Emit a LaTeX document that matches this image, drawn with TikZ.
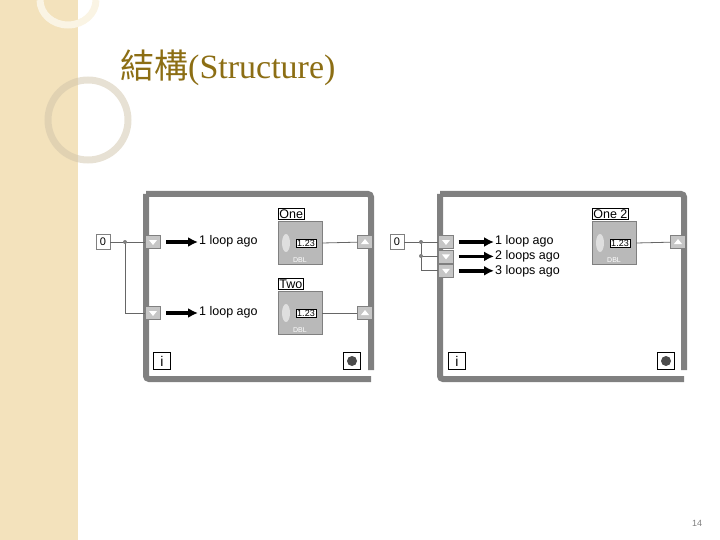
\documentclass[tikz,border=0pt]{standalone}
\usepackage{fontspec}
\setmainfont{Liberation Serif}
\setsansfont{Liberation Sans}
\newfontfamily\cjk{Noto Sans CJK TC}
\usetikzlibrary{positioning,arrows.meta,calc}
\definecolor{titlegold}{RGB}{140,110,20}
\definecolor{stripbg}{RGB}{243,226,188}
\definecolor{framegray}{RGB}{128,128,128}
\tikzset{
  loopframe/.style={draw=framegray, line width=6pt, rounded corners=3pt},
  shiftreg/.style={draw=framegray, fill=gray!45, minimum width=15pt, minimum height=13pt, inner sep=0pt},
  constbox/.style={draw=framegray, fill=white, font=\sffamily\fontsize{11}{12}\selectfont, minimum width=14pt, minimum height=15pt, inner sep=0pt},
  wire/.style={draw=gray!80!black, line width=0.8pt},
  bigarrow/.style={-{Latex[length=10pt,width=10pt]}, line width=3.5pt},
  agetext/.style={font=\sffamily\fontsize{12.5}{14}\selectfont, anchor=west, inner sep=1pt},
  labelbox/.style={draw, thick, font=\sffamily\fontsize{12.5}{14}\selectfont, inner sep=1pt, anchor=south west},
  indbox/.style={draw=framegray, fill=gray!55, minimum width=44pt, minimum height=43pt, inner sep=0pt},
  iterbox/.style={draw, thick, fill=white, font=\sffamily\fontsize{14}{16}\selectfont, minimum width=17pt, minimum height=17pt, inner sep=0pt},
  stopbox/.style={draw, thick, fill=white, minimum width=17pt, minimum height=17pt, inner sep=0pt}
}
\newcommand{\downtri}[1]{\fill[white] ($(#1)+(-4,-2)$) -- ($(#1)+(4,-2)$) -- ($(#1)+(0,3)$) -- cycle;}
\newcommand{\uptri}[1]{\fill[white] ($(#1)+(-4,2)$) -- ($(#1)+(4,2)$) -- ($(#1)+(0,-3)$) -- cycle;}
\newcommand{\indicator}[2]{%
  \node[indbox] (#1) at (#2) {};
  \node[draw, fill=white, font=\sffamily\fontsize{9}{10}\selectfont, inner sep=1pt] (#1num) at ($(#1)+(6,0)$) {1.23};
  \fill[gray!25] ($(#1)+(-14,0)$) ellipse (4 and 9);
  \node[font=\sffamily\fontsize{7}{8}\selectfont, text=white, inner sep=0pt] at ($(#1)+(0,17)$) {DBL};
  \coordinate (#1out) at ($(#1.east)$);}
\begin{document}
\begin{tikzpicture}[x=1pt,y=-1pt]
\useasboundingbox (0,0) rectangle (720,540);
% background strip
\fill[stripbg] (0,0) rectangle (78,540);
\draw[white!60!stripbg, line width=7pt] (40,0) arc (180:0:28 and 25);
\draw[stripbg!70!gray, line width=7pt, opacity=0.5] (88,120) circle (40);
\node[anchor=west, text=titlegold, font=\fontsize{34}{38}\selectfont, inner sep=0pt] (title) at (120,68) {{\cjk 結構}(Structure)};
\node[font=\sffamily\fontsize{9}{10}\selectfont, text=gray] (page) at (697,523) {14};

% left loop
\draw[loopframe] (146,194) -- (146,379) -- (371,379);
\draw[loopframe] (146,194) -- (371,194) -- (371,370);
\node[constbox] (zeroA) at (103,242) {0};
\node[shiftreg] (srA1) at (153,242) {};
\node[shiftreg] (srA2) at (153,313) {};
\node[shiftreg] (outA1) at (365,242) {};
\node[shiftreg] (outA2) at (365,313) {};
\downtri{srA1} \downtri{srA2} \uptri{outA1} \uptri{outA2}
\coordinate (jA) at (125,242);
\draw[wire] (zeroA) -- (srA1);
\draw[wire] (jA) |- (srA2);
\fill[gray] (jA) circle (2pt);
\coordinate (arA1) at (166,242);
\coordinate (arA2) at (166,313);
\node[agetext] (txA1) at (198,241) {1 loop ago};
\node[agetext] (txA2) at (198,312) {1 loop ago};
\draw[bigarrow] (arA1) -- (arA1 -| txA1.west);
\draw[bigarrow] (arA2) -- (arA2 -| txA2.west);
\node[labelbox] (lblOne) at (278,220) {One};
\indicator{indOne}{300,243}
\node[labelbox] (lblTwo) at (278,290) {Two};
\indicator{indTwo}{300,313}
\draw[wire] (indOneout) -- (outA1);
\draw[wire] (indTwoout) -- (outA2);
\node[iterbox] (iterA) at (162,361) {i};
\node[stopbox] (stopA) at (352,361) {};
\fill[gray!60!black] (stopA) circle (5pt);

% right loop
\draw[loopframe] (440,194) -- (440,379) -- (684,379);
\draw[loopframe] (440,194) -- (684,194) -- (684,370);
\node[constbox] (zeroB) at (397,242) {0};
\node[shiftreg] (srB1) at (446,242) {};
\node[shiftreg, below=1pt of srB1] (srB2) {};
\node[shiftreg, below=1pt of srB2] (srB3) {};
\node[shiftreg] (outB1) at (678,242) {};
\downtri{srB1} \downtri{srB2} \downtri{srB3} \uptri{outB1}
\coordinate (jB) at (421,242);
\coordinate (jB2) at (421,256);
\draw[wire] (zeroB) -- (srB1);
\draw[wire] (jB) |- (srB2);
\draw[wire] (jB2) |- (srB3);
\fill[gray] (jB) circle (2pt);
\fill[gray] (jB2) circle (2pt);
\node[agetext] (txB1) at (494,241) {1 loop ago};
\node[agetext] (txB2) at (494,256) {2 loops ago};
\node[agetext] (txB3) at (494,271) {3 loops ago};
\draw[bigarrow] ($(srB1.east)+(5,0)$) -- (srB1 -| txB1.west);
\draw[bigarrow] ($(srB2.east)+(5,0)$) -- (srB2 -| txB2.west);
\draw[bigarrow] ($(srB3.east)+(5,0)$) -- (srB3 -| txB3.west);
\node[labelbox] (lblOne2) at (592,220) {One 2};
\indicator{indOne2}{614,243}
\draw[wire] (indOne2out) -- (outB1);
\node[iterbox] (iterB) at (457,361) {i};
\node[stopbox] (stopB) at (666,361) {};
\fill[gray!60!black] (stopB) circle (5pt);
\end{tikzpicture}
\end{document}
